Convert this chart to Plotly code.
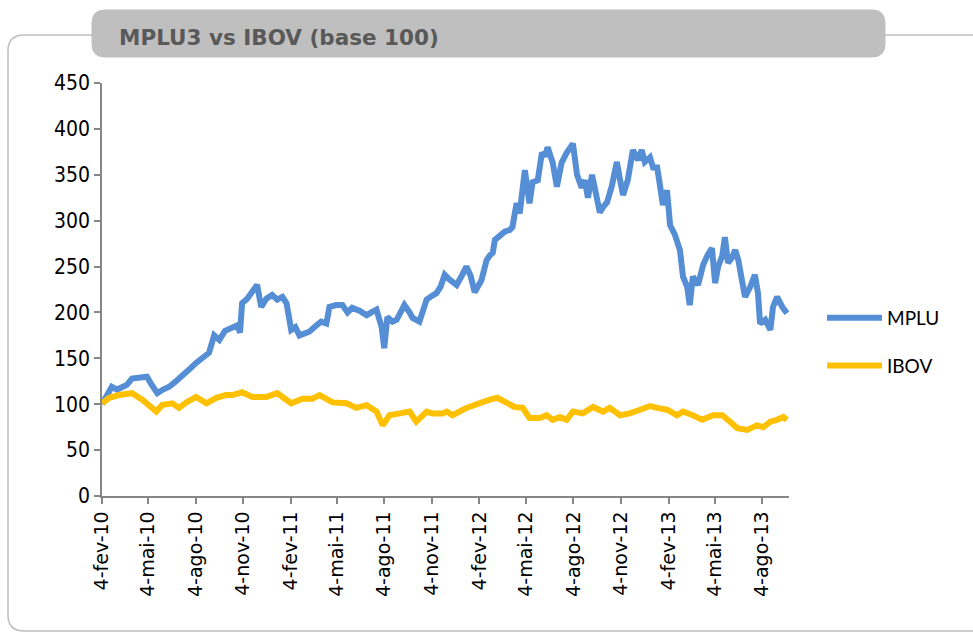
import datetime as dt
import plotly.graph_objects as go

# ---------------- data ----------------
start_date = "2010-02-04"

# MPLU3 (base 100): observation day offsets from start_date and values
mplu_day = [0, 10, 19, 29, 37, 48, 58, 72, 87, 95, 107, 118, 130, 141, 155, 169, 182, 194,
            207, 217, 227, 238, 252, 262, 267, 271, 281, 291, 300, 308, 318, 329, 339, 349,
            357, 366, 374, 382, 391, 401, 415, 424, 434, 440, 453, 465, 475, 484, 498, 512,
            521, 531, 541, 546, 552, 562, 570, 577, 585, 595, 601, 614, 628, 638, 647, 655,
            663, 672, 686, 696, 705, 713, 721, 734, 744, 750, 756, 760, 769, 779, 789, 794,
            802, 808, 818, 827, 833, 843, 851, 857, 862, 872, 880, 889, 899, 911, 919, 928,
            934, 940, 948, 957, 963, 971, 977, 986, 996, 1002, 1008, 1017, 1027, 1037, 1044,
            1050, 1060, 1066, 1074, 1079, 1085, 1093, 1099, 1108, 1118, 1124, 1132, 1137,
            1143, 1153, 1163, 1172, 1180, 1186, 1192, 1200, 1205, 1211, 1219, 1225, 1231,
            1238, 1244, 1254, 1263, 1269, 1273, 1283, 1293, 1298, 1306, 1316, 1325]
mplu_val = [100, 110, 119, 116, 118, 121, 128, 129, 130, 122, 112, 116, 119, 124, 130, 138, 145, 150,
            156, 175, 170, 180, 184, 186, 178, 210, 215, 222, 230, 206, 215, 219, 214, 217,
            210, 181, 184, 175, 177, 179, 186, 190, 188, 206, 208, 208, 200, 205, 202, 197,
            200, 203, 184, 161, 195, 190, 192, 200, 208, 200, 194, 190, 214, 218, 221, 228,
            241, 236, 230, 240, 250, 240, 222, 235, 257, 262, 265, 279, 283, 288, 290, 293,
            319, 308, 355, 319, 342, 344, 374, 370, 380, 363, 337, 363, 374, 384, 350, 336,
            344, 325, 350, 328, 309, 316, 320, 337, 364, 345, 328, 344, 377, 366, 377,
            364, 369, 358, 358, 340, 317, 333, 295, 285, 268, 239, 228, 208,
            239, 230, 252, 263, 270, 232, 250, 262, 282, 254, 260, 268, 257,
            235, 217, 228, 241, 221, 188, 192, 181, 206, 217, 206, 199]

# IBOV (base 100)
ibov_day = [0, 14, 33, 58, 78, 105, 116, 136, 149, 163, 182, 202, 221, 240, 252, 271, 291, 318,
            339, 366, 388, 407, 421, 446, 473, 492, 512, 531, 543, 556, 576, 595, 608, 628,
            639, 659, 667, 678, 705, 731, 750, 765, 783, 798, 814, 827, 847, 860, 872, 886,
            899, 911, 930, 950, 969, 982, 1002, 1021, 1041, 1060, 1074, 1093, 1112, 1124,
            1143, 1161, 1182, 1200, 1215, 1229, 1248, 1267, 1279, 1293, 1306, 1318, 1325]
ibov_val = [101, 107, 110, 112, 105, 92, 99, 101, 96, 102, 108, 101, 107, 110, 110, 113, 108, 108,
            112, 101, 106, 106, 110, 102, 101, 96, 99, 92, 77, 88, 90, 92, 81, 92,
            90, 90, 92, 88, 96, 102, 105, 107, 101, 97, 96, 85, 85, 88, 83, 86,
            83, 92, 90, 97, 92, 96, 88, 90, 94, 98, 96, 94, 88, 92,
            88, 83, 88, 88, 81, 74, 72, 77, 75, 81, 83, 86, 83]

tick_dates = ["2010-02-04", "2010-05-04", "2010-08-04", "2010-11-04", "2011-02-04",
              "2011-05-04", "2011-08-04", "2011-11-04", "2012-02-04", "2012-05-04",
              "2012-08-04", "2012-11-04", "2013-02-04", "2013-05-04", "2013-08-04"]
tick_labels = ["4-fev-10", "4-mai-10", "4-ago-10", "4-nov-10", "4-fev-11", "4-mai-11",
               "4-ago-11", "4-nov-11", "4-fev-12", "4-mai-12", "4-ago-12", "4-nov-12",
               "4-fev-13", "4-mai-13", "4-ago-13"]
x_end_date = "2013-09-25"

series_names = ["MPLU", "IBOV"]
title_text = "MPLU3 vs IBOV (base 100)"

# ---------------- build ----------------
t0 = dt.date.fromisoformat(start_date)
mplu_dates = [t0 + dt.timedelta(days=d) for d in mplu_day]
ibov_dates = [t0 + dt.timedelta(days=d) for d in ibov_day]

W, H = 973, 634
ML, MR, MT, MB = 102, 184, 83, 138
PW, PH = W - ML - MR, H - MT - MB


def px(x):
    return (x - ML) / PW


def py(y):
    return (H - MB - y) / PH


fig = go.Figure()
fig.add_trace(go.Scatter(x=mplu_dates, y=mplu_val, mode="lines", name=series_names[0],
                         legendgroup="a", line=dict(color="#558ED5", width=6)))
fig.add_trace(go.Scatter(x=ibov_dates, y=ibov_val, mode="lines", name=series_names[1],
                         legendgroup="b", line=dict(color="#FFC000", width=6)))

axis_color = "#868686"
fig.update_layout(
    width=W, height=H,
    margin=dict(l=ML, r=MR, t=MT, b=MB, autoexpand=False),
    paper_bgcolor="white", plot_bgcolor="white",
    showlegend=True,
    legend=dict(x=px(822), y=py(299), xanchor="left", yanchor="top",
                font=dict(family="Lato, Liberation Sans, sans-serif", size=19, color="#000000"),
                itemwidth=55, tracegroupgap=20, bgcolor="rgba(0,0,0,0)"),
    xaxis=dict(type="date", range=[start_date, x_end_date], tickmode="array",
               tickvals=tick_dates, ticktext=tick_labels, tickangle=-90,
               showgrid=False, zeroline=False, showline=True, linecolor=axis_color,
               linewidth=1.5, ticks="outside", ticklen=6, tickcolor=axis_color, tickwidth=1.5,
               tickfont=dict(family="DejaVu Sans, sans-serif", size=19, color="#000000")),
    yaxis=dict(range=[0, 450], dtick=50, tick0=0, showgrid=False, zeroline=False,
               showline=True, linecolor=axis_color, linewidth=1.5, ticks="outside",
               ticklen=6, tickcolor=axis_color, tickwidth=1.5,
               tickfont=dict(family="Liberation Sans Narrow, DejaVu Sans Condensed, Liberation Sans, sans-serif",
                             size=21, color="#000000")),
)

# outer frame (rounded, light gray)
r = 16
frame_path = (f"M {px(92)},{py(35)} L {px(8 + r)},{py(35)} "
              f"Q {px(8)},{py(35)} {px(8)},{py(35 + r)} "
              f"L {px(8)},{py(631 - r)} Q {px(8)},{py(631)} {px(8 + r)},{py(631)} "
              f"L {px(990)},{py(631)}")
fig.add_shape(type="path", path=frame_path, xref="paper", yref="paper",
              line=dict(color="#BFBFBF", width=1.5), layer="below")
fig.add_shape(type="line", x0=px(885), x1=px(990), y0=py(35), y1=py(35),
              xref="paper", yref="paper", line=dict(color="#BFBFBF", width=1.5))

# title box (rounded)
bx0, bx1, by0, by1, br = 92, 885, 10, 57, 13
box_path = (f"M {px(bx0 + br)},{py(by0)} L {px(bx1 - br)},{py(by0)} "
            f"Q {px(bx1)},{py(by0)} {px(bx1)},{py(by0 + br)} "
            f"L {px(bx1)},{py(by1 - br)} Q {px(bx1)},{py(by1)} {px(bx1 - br)},{py(by1)} "
            f"L {px(bx0 + br)},{py(by1)} Q {px(bx0)},{py(by1)} {px(bx0)},{py(by1 - br)} "
            f"L {px(bx0)},{py(by0 + br)} Q {px(bx0)},{py(by0)} {px(bx0 + br)},{py(by0)} Z")
fig.add_shape(type="path", path=box_path, xref="paper", yref="paper",
              fillcolor="#BFBFBF", line=dict(color="#BFBFBF", width=1))
fig.add_annotation(x=px(117), y=py(38), xref="paper", yref="paper", text=f"<b>{title_text}</b>",
                   showarrow=False, xanchor="left", yanchor="middle",
                   font=dict(family="DejaVu Sans, Verdana, sans-serif", size=21.5, color="#595959"))

fig.write_html("out.html", config={"displayModeBar": False},
               post_script="document.body.style.margin='0';document.body.style.overflow='hidden';")
